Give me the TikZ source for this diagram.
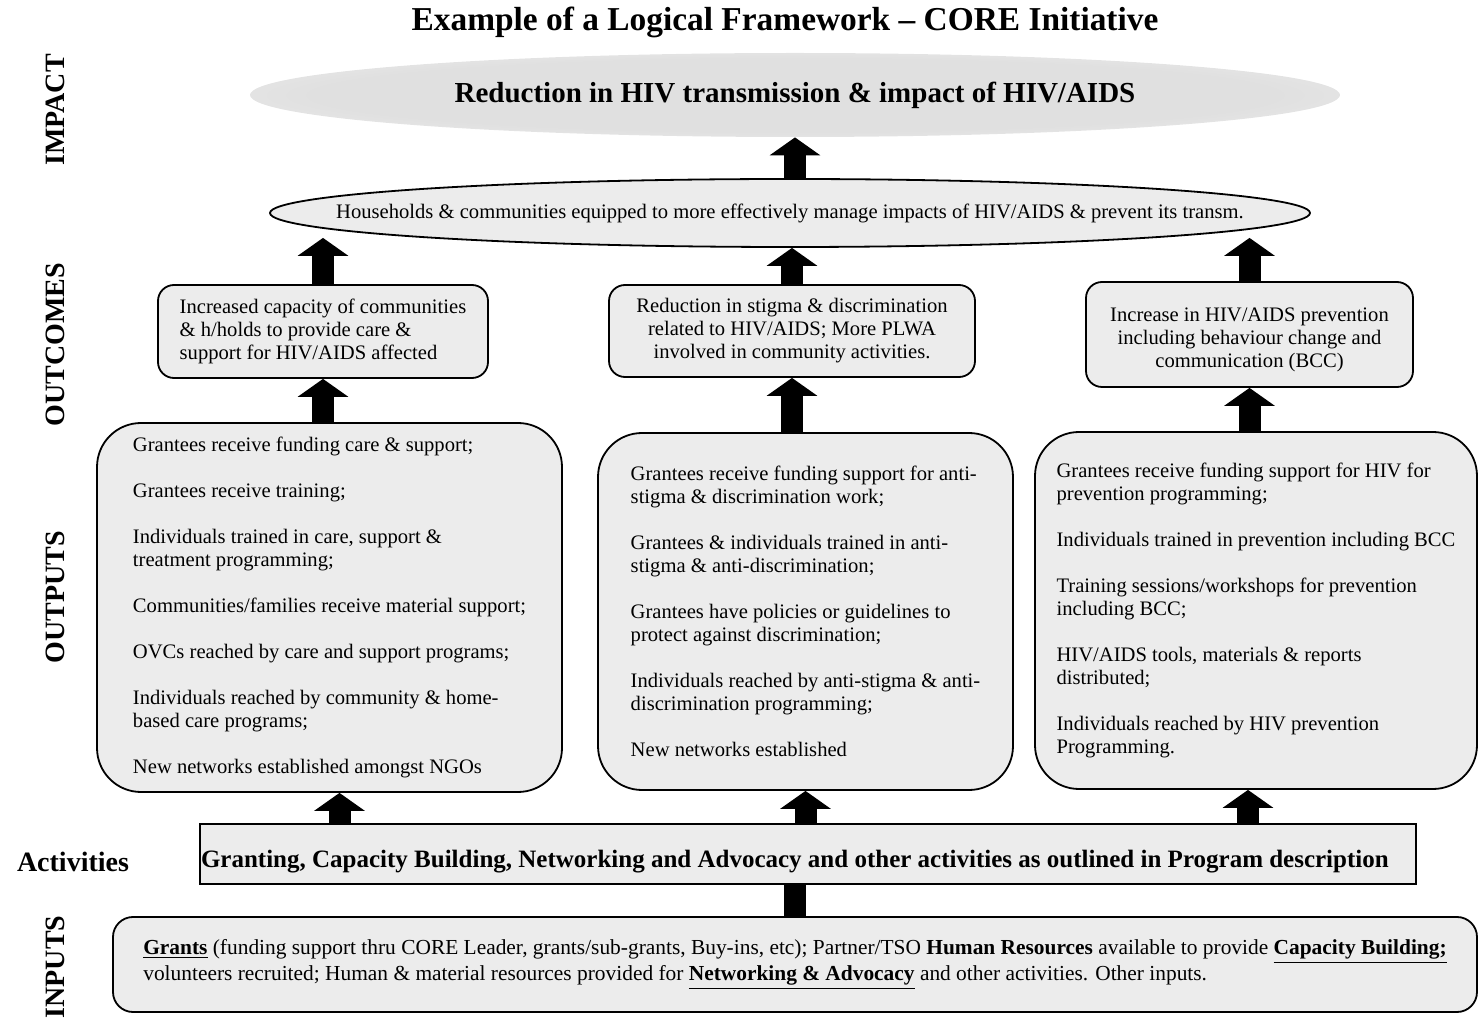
\documentclass[tikz,border=0pt]{standalone}
\usepackage{fontspec}
\setmainfont{Liberation Serif}
\usepackage{tikz}
\usetikzlibrary{arrows.meta,shapes.geometric,calc}
\definecolor{boxgray}{RGB}{236,236,236}
\definecolor{impgray}{RGB}{224,224,224}
\pgfdeclareradialshading{impfuzz}{\pgfpoint{0bp}{0bp}}{color(0bp)=(impgray); color(22bp)=(impgray); color(50bp)=(white)}
\tikzset{>=latex}
\tikzset{
  body/.style={font=\fontsize{10.3}{11.5}\selectfont},
  outbox/.style={draw, line width=0.9pt, fill=boxgray, rounded corners=22pt, align=left, body},
  ocbox/.style={draw, line width=0.9pt, fill=boxgray, rounded corners=8pt, body},
  sidelab/.style={rotate=90, font=\fontsize{14}{16}\selectfont\bfseries},
  bigarrow/.style={line width=11pt, -{Triangle[width=25pt,length=9pt]}},
  shaft/.style={line width=11pt}
}

\begin{document}
\begin{tikzpicture}[x=0.5pt, y=-0.5pt]
    \useasboundingbox (0,0) rectangle (1479,1021);
    % title
    \node[font=\fontsize{16.7}{19}\selectfont\bfseries] (title) at (785,22) {Example of a Logical Framework -- CORE Initiative};
    % side labels
    \foreach \lab/\yy in {IMPACT/110, OUTCOMES/345, OUTPUTS/597, INPUTS/967}
        \node[sidelab] (side\lab) at (55,\yy) {\lab};
    \node[font=\fontsize{14}{16}\selectfont\bfseries] (actlab) at (73,862) {Activities};
    % impact and household ellipses
    \node[ellipse, shade, shading=impfuzz, minimum width=545pt, minimum height=42pt, inner sep=0pt,
          label={[font=\fontsize{14.5}{16}\selectfont\bfseries]center:Reduction in HIV transmission \& impact of HIV/AIDS}]
          (imp) at (795,95) {};
    \node[ellipse, draw, line width=0.9pt, fill=boxgray, minimum width=520pt, minimum height=34pt, inner sep=0pt,
          label={[body]center:Households \& communities equipped to more effectively manage impacts of HIV/AIDS \& prevent its transm.}]
          (hh) at (790,213) {};
    % outcomes
    \node[ocbox, align=left, minimum width=165pt, minimum height=46.5pt] (oc1) at (323,331.5)
          {Increased capacity of communities\\ \& h/holds to provide care \&\\ support for HIV/AIDS affected};
    \node[ocbox, align=center, minimum width=183pt, minimum height=46pt] (oc2) at (792,331)
          {Reduction in stigma \& discrimination\\ related to HIV/AIDS; More PLWA\\ involved in community activities.};
    \node[ocbox, minimum width=163.5pt, minimum height=52.5pt,
          label={[body, align=center, yshift=-2.5pt]center:Increase in HIV/AIDS prevention\\ including behaviour change and\\ communication (BCC)}]
          (oc3) at (1249.5,334.5) {};
    % outputs
    \node[outbox, minimum width=232.5pt, minimum height=184.5pt] (out1) at (329.5,607.5)
          {Grantees receive funding care \& support;\\[11.5pt]
           Grantees receive training;\\[11.5pt]
           Individuals trained in care, support \&\\ treatment programming;\\[11.5pt]
           Communities/families receive material support;\\[11.5pt]
           OVCs reached by care and support programs;\\[11.5pt]
           Individuals reached by community \& home-\\ based care programs;\\[11.5pt]
           New networks established amongst NGOs};
    \node[outbox, minimum width=207.5pt, minimum height=178.5pt] (out2) at (805.5,611.5)
          {Grantees receive funding support for anti-\\ stigma \& discrimination work;\\[11.5pt]
           Grantees \& individuals trained in anti-\\ stigma \& anti-discrimination;\\[11.5pt]
           Grantees have policies or guidelines to\\ protect against discrimination;\\[11.5pt]
           Individuals reached by anti-stigma \& anti-\\ discrimination programming;\\[11.5pt]
           New networks established};
    \node[outbox, minimum width=221pt, minimum height=178.5pt] (out3) at (1256,610.5)
          {Grantees receive funding support for HIV for\\ prevention programming;\\[11.5pt]
           Individuals trained in prevention including BCC\\[11.5pt]
           Training sessions/workshops for prevention\\ including BCC;\\[11.5pt]
           HIV/AIDS tools, materials \& reports\\ distributed;\\[11.5pt]
           Individuals reached by HIV prevention\\ Programming.};
    % activities and inputs
    \node[draw, line width=0.9pt, fill=boxgray, inner xsep=0.5pt, minimum height=30pt, text height=13pt, text depth=0pt,
          font=\fontsize{12.5}{14}\selectfont\bfseries] (act) at (808,854)
          {\makebox[607pt][l]{Granting, Capacity Building, Networking and Advocacy and other activities as outlined in Program description}};
    \node[draw, line width=0.9pt, fill=boxgray, rounded corners=10pt, minimum width=682pt, minimum height=47.5pt,
          align=left, font=\fontsize{10.7}{11.8}\selectfont] (inp) at (795,964.5)
          {\underline{\textbf{Grants}} (funding support thru CORE Leader, grants/sub-grants, Buy-ins, etc); Partner/TSO \textbf{Human Resources} available to provide \underline{\textbf{Capacity Building;}}\\
           volunteers recruited; Human \& material resources provided for \underline{\textbf{Networking \& Advocacy}} and other activities. Other inputs.};
    % arrows
    \draw[bigarrow] (imp.south |- hh.north) -- (imp.south);
    \draw[bigarrow, shorten >=-5pt] (oc1.north) -- (oc1.north |- hh.south);
    \draw[bigarrow] (oc2.north) -- (oc2.north |- hh.south);
    \draw[bigarrow, shorten >=-5pt] (oc3.north) -- (oc3.north |- hh.south);
    \draw[bigarrow] (out1.north -| oc1.south) -- (oc1.south);
    \draw[bigarrow] (out2.north -| oc2.south) -- (oc2.south);
    \draw[bigarrow] (out3.north -| oc3.south) -- (oc3.south);
    \draw[bigarrow] ([xshift=5pt]act.north -| out1.south) -- ([xshift=5pt]out1.south);
    \draw[bigarrow] (act.north -| out2.south) -- (out2.south);
    \draw[bigarrow] ([xshift=-4pt]act.north -| out3.south) -- ([xshift=-4pt]out3.south);
    \draw[shaft] (inp.north) -- (inp.north |- act.south);
\end{tikzpicture}
\end{document}
